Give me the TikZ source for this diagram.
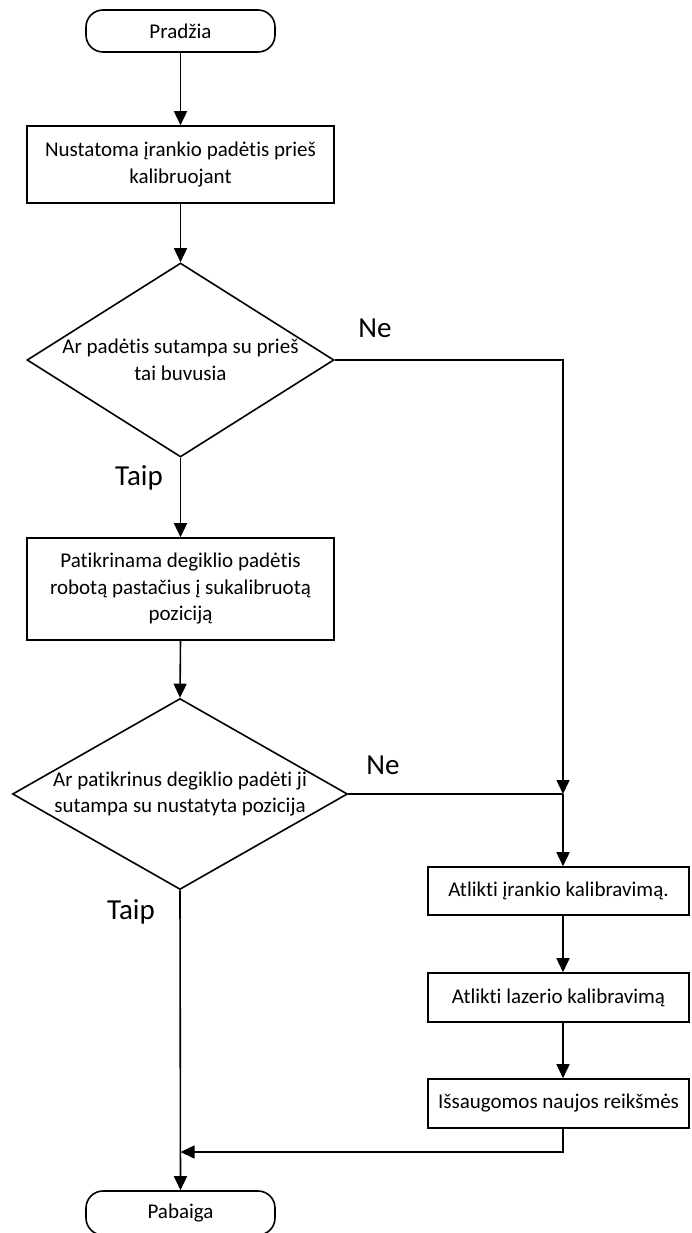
\documentclass[tikz,border=0pt]{standalone}
\usepackage{fontspec}
\setmainfont{Carlito}[Ligatures={NoCommon}]
\usetikzlibrary{shapes.geometric,arrows.meta}
\begin{document}
\begin{tikzpicture}[x=1pt,y=-1pt,
  line width=1.6pt,
  every node/.style={font=\fontsize{21}{26.5}\selectfont},
  terminal/.style={draw, rounded corners=17pt, minimum width=189pt, minimum height=42pt, inner sep=0pt},
  process/.style={draw, align=center, inner sep=0pt},
  decision/.style={draw, diamond, inner sep=0pt},
  caption/.style={align=center, inner sep=0pt},
  answer/.style={inner sep=0pt, font=\fontsize{29}{32}\selectfont},
  arr/.style={-{Triangle[length=14pt,width=13pt]}}
]
\useasboundingbox (0,0) rectangle (691,1233);

% main column
\node[terminal] (start) at (180.5,31) {Pradžia};
\node[process, minimum width=307pt, minimum height=77pt] (b1) at (180.5,164.5)
  {Nustatoma įrankio padėtis prieš\\kalibruojant};
\node[decision, minimum width=307pt, minimum height=194pt] (d1) at (180.5,360) {};
\node[caption] (d1t) at (d1.center) {Ar padėtis sutampa su prieš\\tai buvusia};
\node[process, minimum width=307pt, minimum height=102pt] (b2) at (180.5,589)
  {Patikrinama degiklio padėtis\\robotą pastačius į sukalibruotą\\poziciją};
\node[decision, minimum width=335pt, minimum height=191pt] (d2) at (180,794) {};
\node[caption] (d2t) at (d2.center) {Ar patikrinus degiklio padėti ji\\sutampa su nustatyta pozicija};
\node[terminal, minimum height=44pt] (end) at (180.5,1213) {Pabaiga};

% right column
\node[process, minimum width=261pt, minimum height=48pt] (b3) at (558.5,891) {Atlikti įrankio kalibravimą.};
\node[process, minimum width=261pt, minimum height=49pt] (b4) at (558.5,997.5) {Atlikti lazerio kalibravimą};
\node[process, minimum width=261pt, minimum height=49pt] (b5) at (558.5,1103.5) {Išsaugomos naujos reikšmės};

% branch labels
\node[answer] (ne1) at (375,328) {Ne};
\node[answer] (ne2) at (383,765) {Ne};
\node[answer] (taip1) at (139,478) {Taip};
\node[answer] (taip2) at (131,912) {Taip};

% junctions
\coordinate (j) at (563,794);
\coordinate (ret) at (180.5,1152);

% connectors
\draw[arr] (start) -- (b1);
\draw[arr] (b1) -- (d1);
\draw[arr] (d1.south) -- (b2.north);
\draw[arr] (b2.south) -- (d2.north);
\draw[arr] (d2.south) -- (end.north);
\draw[arr] (d1.east) -| (j);
\draw (d2.east) -- (j);
\draw[arr] (j) -- (j |- b3.north);
\draw[arr] (j |- b3.south) -- (j |- b4.north);
\draw[arr] (j |- b4.south) -- (j |- b5.north);
\draw[arr] (j |- b5.south) |- (ret);
\end{tikzpicture}
\end{document}
